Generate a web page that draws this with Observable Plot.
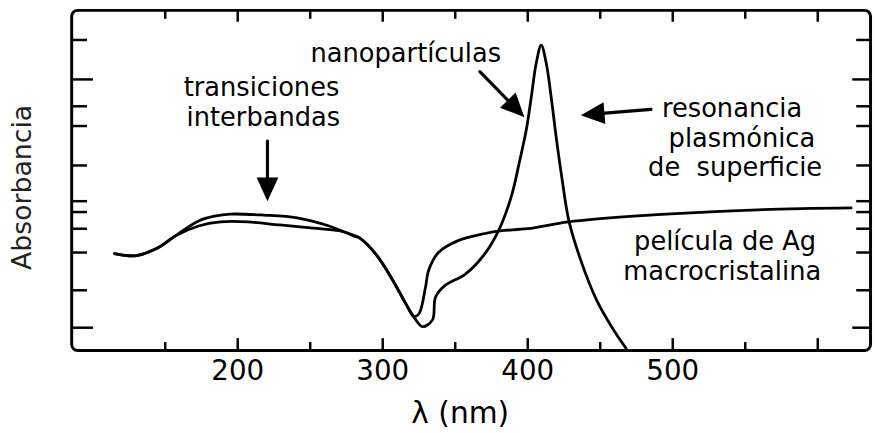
<!DOCTYPE html>
<html><head><meta charset="utf-8">
<script src="https://cdn.jsdelivr.net/npm/d3@7"></script>
<script src="https://cdn.jsdelivr.net/npm/@observablehq/plot@0.6"></script>
<style>
html,body{margin:0;padding:0;overflow:hidden;background:#fff;}
#chart svg{display:block;}
g[aria-label="ticklabels"] text{letter-spacing:3px;}
</style>
</head><body><div id="chart"></div>
<script>
// Película de Ag macrocristalina
const filmLambda = [115, 130, 145, 157, 173, 184, 195, 218, 241, 263, 280, 284, 295.5, 307, 316, 321.5, 325, 329.5, 331.6, 338.4, 352, 370.5, 381, 400, 428, 473, 554, 623];
const filmAbs    = [28.5, 27.9, 30.2, 33.7, 38.1, 39.5, 40.1, 39.8, 39.0, 36.6, 33.7, 33.1, 28.2, 20.6, 13.7, 10.0, 10.8, 18.6, 23.5, 28.8, 32.3, 34.4, 35.2, 35.8, 37.8, 39.5, 41.3, 41.9];
// Nanopartículas
const nanoLambda = [115, 130, 145, 157, 173, 188, 207, 229, 252, 270, 280, 284, 295.5, 307, 316, 322, 327.5, 334.3, 336.4, 343.2, 356.8, 370.5, 380.7, 388.9, 394.3, 399.1, 402.5, 405.9, 409.3, 412.7, 416.1, 419.5, 423.6, 428.4, 436.6, 447.5, 459.1, 467.9];
const nanoAbs    = [28.5, 27.9, 30.2, 33.7, 36.6, 37.8, 37.8, 36.9, 36.0, 35.2, 33.9, 33.1, 28.2, 20.6, 13.7, 9.5, 7.0, 9.0, 15.7, 19.2, 22.4, 28.5, 36.0, 45.6, 55.5, 65.1, 74.7, 84.6, 89.8, 84.6, 74.7, 63.1, 50.6, 38.1, 26.5, 14.8, 6.1, 0.6];

const xTickLabels = [200, 300, 400, 500];
const xMajorTicks = [200, 300, 400, 500, 600];
const xMinorTicks = [150, 250, 350, 450, 550];
const yShortTicks = [91.3, 71.8, 66.0, 54.4, 43.9, 40.7, 35.8, 28.8, 17.7];
const yLongTicks  = [79.7, 6.7];

const annotations = [
  {text: "transiciones", x: 216.4, y: 77.1},
  {text: "interbandas", x: 217.7, y: 68.4},
  {text: "nanopartículas", x: 315.9, y: 87.3},
  {text: "resonancia", x: 540.9, y: 71.0},
  {text: "plasmónica", x: 547.7, y: 62.3},
  {text: "de  superficie", x: 543.0, y: 53.6},
  {text: "película de Ag", x: 536.1, y: 32.1},
  {text: "macrocristalina", x: 534.1, y: 23.1}
];
const arrows = [
  {x1: 220.5, y1: 61.6, x2: 220.5, y2: 43.9},
  {x1: 367.0, y1: 82.0, x2: 397.7, y2: 68.6},
  {x1: 485.0, y1: 70.9, x2: 436.6, y2: 69.2}
];

const film = filmLambda.map((l, i) => ({lambda: l, abs: filmAbs[i]}));
const nano = nanoLambda.map((l, i) => ({lambda: l, abs: nanoAbs[i]}));

const W = 885, H = 433, mL = 72, mR = 5, mT = 10, mB = 79;
const innerW = W - mL - mR, innerH = H - mT - mB;
const xDomain = [85.5, 636.4], yDomain = [0, 100];
const xs = d3.scaleLinear(xDomain, [mL, W - mR]);
const ys = d3.scaleLinear(yDomain, [H - mB, mT]);
arrows.forEach(a => {
  a.rotate = Math.atan2(xs(a.x2) - xs(a.x1), -(ys(a.y2) - ys(a.y1))) * 180 / Math.PI;
});

const tickStyle = {stroke: "#000", strokeWidth: 2.5};
const chart = Plot.plot({
  width: W, height: H,
  marginLeft: mL, marginRight: mR, marginTop: mT, marginBottom: mB,
  style: {fontFamily: "DejaVu Sans", background: "#fff", color: "#000", overflow: "visible"},
  x: {domain: xDomain, axis: null},
  y: {domain: yDomain, axis: null},
  marks: [
    // ticks (inward)
    Plot.tickX(xMajorTicks, {x: d => d, insetTop: innerH - 12, ...tickStyle}),
    Plot.tickX(xMinorTicks, {x: d => d, insetTop: innerH - 8, ...tickStyle}),
    Plot.tickX(xMajorTicks, {x: d => d, insetBottom: innerH - 12, ...tickStyle}),
    Plot.tickX(xMinorTicks, {x: d => d, insetBottom: innerH - 9, ...tickStyle}),
    Plot.tickY(yShortTicks, {y: d => d, insetRight: innerW - 16, ...tickStyle}),
    Plot.tickY(yLongTicks, {y: d => d, insetRight: innerW - 22, ...tickStyle}),
    Plot.tickY(yShortTicks, {y: d => d, insetLeft: innerW - 14, ...tickStyle}),
    Plot.tickY(yLongTicks, {y: d => d, insetLeft: innerW - 18, ...tickStyle}),
    Plot.frame({stroke: "#000", strokeWidth: 3, rx: 6}),
    // curves
    Plot.line(film, {x: "lambda", y: "abs", stroke: "#000", strokeWidth: 2.8, curve: "catmull-rom"}),
    Plot.line(nano, {x: "lambda", y: "abs", stroke: "#000", strokeWidth: 2.8, curve: "catmull-rom"}),
    // arrows
    Plot.arrow(arrows, {x1: "x1", y1: "y1", x2: "x2", y2: "y2", headLength: 0, insetEnd: 12, stroke: "#000", strokeWidth: 3.2}),
    Plot.vector(arrows, {x: "x2", y: "y2", rotate: "rotate", length: 24, r: 11, shape: "spike", anchor: "end", fill: "#000", stroke: "none"}),
    // annotations
    Plot.text(annotations, {x: "x", y: "y", text: "text", fontSize: 26, fill: "#000"}),
    // tick labels
    Plot.text(xTickLabels, {x: d => d, text: d => String(d), frameAnchor: "bottom", lineAnchor: "middle", textAnchor: "middle", dy: 21, fontSize: 28, fill: "#000", ariaLabel: "ticklabels"}),
    // axis labels
    Plot.text(["λ (nm)"], {text: d => d, frameAnchor: "bottom", lineAnchor: "middle", textAnchor: "middle", dx: -11, dy: 64, fontSize: 30, fill: "#000"}),
    Plot.text(["Absorbancia"], {text: d => d, frameAnchor: "left", textAnchor: "middle", lineAnchor: "middle", rotate: -90, dx: -50, dy: 7, fontSize: 27, fill: "#222"})
  ]
});
document.getElementById("chart").appendChild(chart);
</script>
</body></html>
